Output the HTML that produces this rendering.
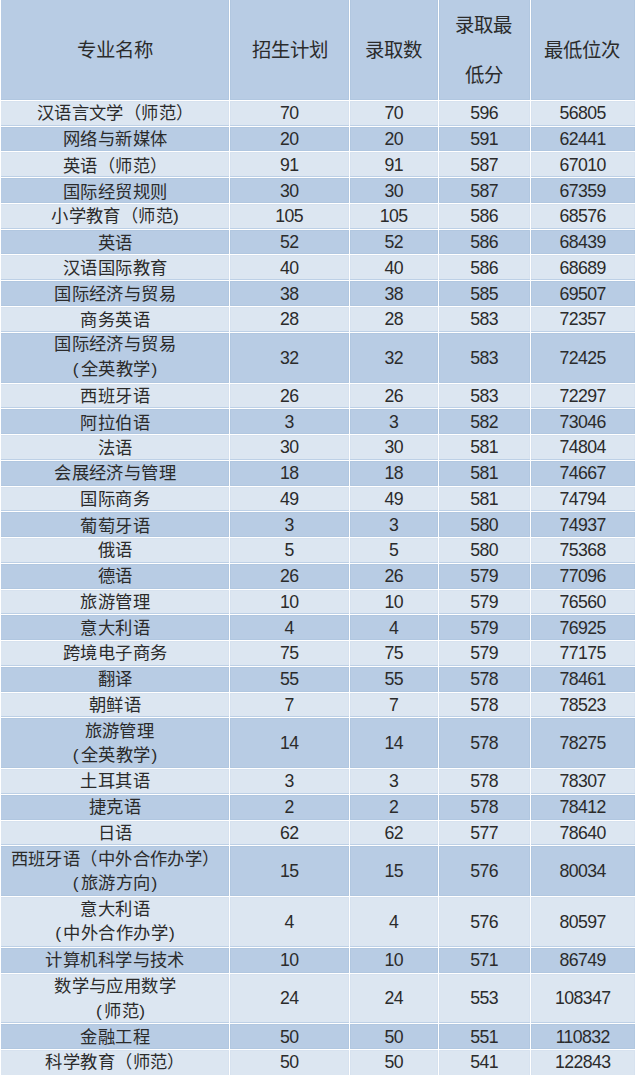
<!DOCTYPE html>
<html lang="zh-CN"><head><meta charset="utf-8">
<style>
html,body{margin:0;padding:0;background:#fff;}
body{width:642px;height:1076px;position:relative;overflow:hidden;font-family:"Liberation Sans",sans-serif;color:#2b2b2b;}
svg{position:absolute;left:0;top:0;}
.t{position:absolute;height:0;line-height:0;text-spacing-trim:space-all;text-align:center;white-space:nowrap;}
.pl{margin-right:2px} .pr{margin-left:1px}
</style></head><body>
<svg width="642" height="1076" viewBox="0 0 642 1076">
<rect x="1" y="0" width="634" height="100" fill="#B8CCE4"/><rect x="228" y="0" width="3" height="100" fill="#B1C7E0"/><rect x="348" y="0" width="3" height="100" fill="#B1C7E0"/><rect x="437" y="0" width="3" height="100" fill="#B1C7E0"/><rect x="529" y="0" width="3" height="100" fill="#B1C7E0"/><rect x="634" y="0" width="1" height="100" fill="#B1C7E0"/><rect x="1" y="99" width="634" height="1" fill="#B1C7E0"/><rect x="1" y="101" width="634" height="25" fill="#DCE6F1"/><rect x="228" y="101" width="3" height="25" fill="#D7E2EF"/><rect x="348" y="101" width="3" height="25" fill="#D7E2EF"/><rect x="437" y="101" width="3" height="25" fill="#D7E2EF"/><rect x="529" y="101" width="3" height="25" fill="#D7E2EF"/><rect x="634" y="101" width="1" height="25" fill="#D7E2EF"/><rect x="1" y="101" width="634" height="1" fill="#D7E2EF"/><rect x="1" y="125" width="634" height="1" fill="#BDD0E6"/><rect x="1" y="127" width="634" height="24" fill="#B8CCE4"/><rect x="228" y="127" width="3" height="24" fill="#B1C7E0"/><rect x="348" y="127" width="3" height="24" fill="#B1C7E0"/><rect x="437" y="127" width="3" height="24" fill="#B1C7E0"/><rect x="529" y="127" width="3" height="24" fill="#B1C7E0"/><rect x="634" y="127" width="1" height="24" fill="#B1C7E0"/><rect x="1" y="127" width="634" height="1" fill="#B1C7E0"/><rect x="1" y="150" width="634" height="1" fill="#B1C7E0"/><rect x="1" y="152" width="634" height="25" fill="#DCE6F1"/><rect x="228" y="152" width="3" height="25" fill="#D7E2EF"/><rect x="348" y="152" width="3" height="25" fill="#D7E2EF"/><rect x="437" y="152" width="3" height="25" fill="#D7E2EF"/><rect x="529" y="152" width="3" height="25" fill="#D7E2EF"/><rect x="634" y="152" width="1" height="25" fill="#D7E2EF"/><rect x="1" y="152" width="634" height="1" fill="#D7E2EF"/><rect x="1" y="176" width="634" height="1" fill="#BDD0E6"/><rect x="1" y="178" width="634" height="25" fill="#B8CCE4"/><rect x="228" y="178" width="3" height="25" fill="#B1C7E0"/><rect x="348" y="178" width="3" height="25" fill="#B1C7E0"/><rect x="437" y="178" width="3" height="25" fill="#B1C7E0"/><rect x="529" y="178" width="3" height="25" fill="#B1C7E0"/><rect x="634" y="178" width="1" height="25" fill="#B1C7E0"/><rect x="1" y="178" width="634" height="1" fill="#B1C7E0"/><rect x="1" y="202" width="634" height="1" fill="#B1C7E0"/><rect x="1" y="204" width="634" height="25" fill="#DCE6F1"/><rect x="228" y="204" width="3" height="25" fill="#D7E2EF"/><rect x="348" y="204" width="3" height="25" fill="#D7E2EF"/><rect x="437" y="204" width="3" height="25" fill="#D7E2EF"/><rect x="529" y="204" width="3" height="25" fill="#D7E2EF"/><rect x="634" y="204" width="1" height="25" fill="#D7E2EF"/><rect x="1" y="204" width="634" height="1" fill="#D7E2EF"/><rect x="1" y="228" width="634" height="1" fill="#BDD0E6"/><rect x="1" y="230" width="634" height="24" fill="#B8CCE4"/><rect x="228" y="230" width="3" height="24" fill="#B1C7E0"/><rect x="348" y="230" width="3" height="24" fill="#B1C7E0"/><rect x="437" y="230" width="3" height="24" fill="#B1C7E0"/><rect x="529" y="230" width="3" height="24" fill="#B1C7E0"/><rect x="634" y="230" width="1" height="24" fill="#B1C7E0"/><rect x="1" y="230" width="634" height="1" fill="#B1C7E0"/><rect x="1" y="253" width="634" height="1" fill="#B1C7E0"/><rect x="1" y="255" width="634" height="25" fill="#DCE6F1"/><rect x="228" y="255" width="3" height="25" fill="#D7E2EF"/><rect x="348" y="255" width="3" height="25" fill="#D7E2EF"/><rect x="437" y="255" width="3" height="25" fill="#D7E2EF"/><rect x="529" y="255" width="3" height="25" fill="#D7E2EF"/><rect x="634" y="255" width="1" height="25" fill="#D7E2EF"/><rect x="1" y="255" width="634" height="1" fill="#D7E2EF"/><rect x="1" y="279" width="634" height="1" fill="#BDD0E6"/><rect x="1" y="281" width="634" height="25" fill="#B8CCE4"/><rect x="228" y="281" width="3" height="25" fill="#B1C7E0"/><rect x="348" y="281" width="3" height="25" fill="#B1C7E0"/><rect x="437" y="281" width="3" height="25" fill="#B1C7E0"/><rect x="529" y="281" width="3" height="25" fill="#B1C7E0"/><rect x="634" y="281" width="1" height="25" fill="#B1C7E0"/><rect x="1" y="281" width="634" height="1" fill="#B1C7E0"/><rect x="1" y="305" width="634" height="1" fill="#B1C7E0"/><rect x="1" y="307" width="634" height="25" fill="#DCE6F1"/><rect x="228" y="307" width="3" height="25" fill="#D7E2EF"/><rect x="348" y="307" width="3" height="25" fill="#D7E2EF"/><rect x="437" y="307" width="3" height="25" fill="#D7E2EF"/><rect x="529" y="307" width="3" height="25" fill="#D7E2EF"/><rect x="634" y="307" width="1" height="25" fill="#D7E2EF"/><rect x="1" y="307" width="634" height="1" fill="#D7E2EF"/><rect x="1" y="331" width="634" height="1" fill="#BDD0E6"/><rect x="1" y="333" width="634" height="50" fill="#B8CCE4"/><rect x="228" y="333" width="3" height="50" fill="#B1C7E0"/><rect x="348" y="333" width="3" height="50" fill="#B1C7E0"/><rect x="437" y="333" width="3" height="50" fill="#B1C7E0"/><rect x="529" y="333" width="3" height="50" fill="#B1C7E0"/><rect x="634" y="333" width="1" height="50" fill="#B1C7E0"/><rect x="1" y="333" width="634" height="1" fill="#B1C7E0"/><rect x="1" y="382" width="634" height="1" fill="#B1C7E0"/><rect x="1" y="384" width="634" height="24" fill="#DCE6F1"/><rect x="228" y="384" width="3" height="24" fill="#D7E2EF"/><rect x="348" y="384" width="3" height="24" fill="#D7E2EF"/><rect x="437" y="384" width="3" height="24" fill="#D7E2EF"/><rect x="529" y="384" width="3" height="24" fill="#D7E2EF"/><rect x="634" y="384" width="1" height="24" fill="#D7E2EF"/><rect x="1" y="384" width="634" height="1" fill="#D7E2EF"/><rect x="1" y="407" width="634" height="1" fill="#BDD0E6"/><rect x="1" y="409" width="634" height="25" fill="#B8CCE4"/><rect x="228" y="409" width="3" height="25" fill="#B1C7E0"/><rect x="348" y="409" width="3" height="25" fill="#B1C7E0"/><rect x="437" y="409" width="3" height="25" fill="#B1C7E0"/><rect x="529" y="409" width="3" height="25" fill="#B1C7E0"/><rect x="634" y="409" width="1" height="25" fill="#B1C7E0"/><rect x="1" y="409" width="634" height="1" fill="#B1C7E0"/><rect x="1" y="433" width="634" height="1" fill="#B1C7E0"/><rect x="1" y="435" width="634" height="25" fill="#DCE6F1"/><rect x="228" y="435" width="3" height="25" fill="#D7E2EF"/><rect x="348" y="435" width="3" height="25" fill="#D7E2EF"/><rect x="437" y="435" width="3" height="25" fill="#D7E2EF"/><rect x="529" y="435" width="3" height="25" fill="#D7E2EF"/><rect x="634" y="435" width="1" height="25" fill="#D7E2EF"/><rect x="1" y="435" width="634" height="1" fill="#D7E2EF"/><rect x="1" y="459" width="634" height="1" fill="#BDD0E6"/><rect x="1" y="461" width="634" height="25" fill="#B8CCE4"/><rect x="228" y="461" width="3" height="25" fill="#B1C7E0"/><rect x="348" y="461" width="3" height="25" fill="#B1C7E0"/><rect x="437" y="461" width="3" height="25" fill="#B1C7E0"/><rect x="529" y="461" width="3" height="25" fill="#B1C7E0"/><rect x="634" y="461" width="1" height="25" fill="#B1C7E0"/><rect x="1" y="461" width="634" height="1" fill="#B1C7E0"/><rect x="1" y="485" width="634" height="1" fill="#B1C7E0"/><rect x="1" y="487" width="634" height="24" fill="#DCE6F1"/><rect x="228" y="487" width="3" height="24" fill="#D7E2EF"/><rect x="348" y="487" width="3" height="24" fill="#D7E2EF"/><rect x="437" y="487" width="3" height="24" fill="#D7E2EF"/><rect x="529" y="487" width="3" height="24" fill="#D7E2EF"/><rect x="634" y="487" width="1" height="24" fill="#D7E2EF"/><rect x="1" y="487" width="634" height="1" fill="#D7E2EF"/><rect x="1" y="510" width="634" height="1" fill="#BDD0E6"/><rect x="1" y="512" width="634" height="25" fill="#B8CCE4"/><rect x="228" y="512" width="3" height="25" fill="#B1C7E0"/><rect x="348" y="512" width="3" height="25" fill="#B1C7E0"/><rect x="437" y="512" width="3" height="25" fill="#B1C7E0"/><rect x="529" y="512" width="3" height="25" fill="#B1C7E0"/><rect x="634" y="512" width="1" height="25" fill="#B1C7E0"/><rect x="1" y="512" width="634" height="1" fill="#B1C7E0"/><rect x="1" y="536" width="634" height="1" fill="#B1C7E0"/><rect x="1" y="538" width="634" height="25" fill="#DCE6F1"/><rect x="228" y="538" width="3" height="25" fill="#D7E2EF"/><rect x="348" y="538" width="3" height="25" fill="#D7E2EF"/><rect x="437" y="538" width="3" height="25" fill="#D7E2EF"/><rect x="529" y="538" width="3" height="25" fill="#D7E2EF"/><rect x="634" y="538" width="1" height="25" fill="#D7E2EF"/><rect x="1" y="538" width="634" height="1" fill="#D7E2EF"/><rect x="1" y="562" width="634" height="1" fill="#BDD0E6"/><rect x="1" y="564" width="634" height="25" fill="#B8CCE4"/><rect x="228" y="564" width="3" height="25" fill="#B1C7E0"/><rect x="348" y="564" width="3" height="25" fill="#B1C7E0"/><rect x="437" y="564" width="3" height="25" fill="#B1C7E0"/><rect x="529" y="564" width="3" height="25" fill="#B1C7E0"/><rect x="634" y="564" width="1" height="25" fill="#B1C7E0"/><rect x="1" y="564" width="634" height="1" fill="#B1C7E0"/><rect x="1" y="588" width="634" height="1" fill="#B1C7E0"/><rect x="1" y="590" width="634" height="24" fill="#DCE6F1"/><rect x="228" y="590" width="3" height="24" fill="#D7E2EF"/><rect x="348" y="590" width="3" height="24" fill="#D7E2EF"/><rect x="437" y="590" width="3" height="24" fill="#D7E2EF"/><rect x="529" y="590" width="3" height="24" fill="#D7E2EF"/><rect x="634" y="590" width="1" height="24" fill="#D7E2EF"/><rect x="1" y="590" width="634" height="1" fill="#D7E2EF"/><rect x="1" y="613" width="634" height="1" fill="#BDD0E6"/><rect x="1" y="615" width="634" height="25" fill="#B8CCE4"/><rect x="228" y="615" width="3" height="25" fill="#B1C7E0"/><rect x="348" y="615" width="3" height="25" fill="#B1C7E0"/><rect x="437" y="615" width="3" height="25" fill="#B1C7E0"/><rect x="529" y="615" width="3" height="25" fill="#B1C7E0"/><rect x="634" y="615" width="1" height="25" fill="#B1C7E0"/><rect x="1" y="615" width="634" height="1" fill="#B1C7E0"/><rect x="1" y="639" width="634" height="1" fill="#B1C7E0"/><rect x="1" y="641" width="634" height="25" fill="#DCE6F1"/><rect x="228" y="641" width="3" height="25" fill="#D7E2EF"/><rect x="348" y="641" width="3" height="25" fill="#D7E2EF"/><rect x="437" y="641" width="3" height="25" fill="#D7E2EF"/><rect x="529" y="641" width="3" height="25" fill="#D7E2EF"/><rect x="634" y="641" width="1" height="25" fill="#D7E2EF"/><rect x="1" y="641" width="634" height="1" fill="#D7E2EF"/><rect x="1" y="665" width="634" height="1" fill="#BDD0E6"/><rect x="1" y="667" width="634" height="25" fill="#B8CCE4"/><rect x="228" y="667" width="3" height="25" fill="#B1C7E0"/><rect x="348" y="667" width="3" height="25" fill="#B1C7E0"/><rect x="437" y="667" width="3" height="25" fill="#B1C7E0"/><rect x="529" y="667" width="3" height="25" fill="#B1C7E0"/><rect x="634" y="667" width="1" height="25" fill="#B1C7E0"/><rect x="1" y="667" width="634" height="1" fill="#B1C7E0"/><rect x="1" y="691" width="634" height="1" fill="#B1C7E0"/><rect x="1" y="693" width="634" height="24" fill="#DCE6F1"/><rect x="228" y="693" width="3" height="24" fill="#D7E2EF"/><rect x="348" y="693" width="3" height="24" fill="#D7E2EF"/><rect x="437" y="693" width="3" height="24" fill="#D7E2EF"/><rect x="529" y="693" width="3" height="24" fill="#D7E2EF"/><rect x="634" y="693" width="1" height="24" fill="#D7E2EF"/><rect x="1" y="693" width="634" height="1" fill="#D7E2EF"/><rect x="1" y="716" width="634" height="1" fill="#BDD0E6"/><rect x="1" y="718" width="634" height="50" fill="#B8CCE4"/><rect x="228" y="718" width="3" height="50" fill="#B1C7E0"/><rect x="348" y="718" width="3" height="50" fill="#B1C7E0"/><rect x="437" y="718" width="3" height="50" fill="#B1C7E0"/><rect x="529" y="718" width="3" height="50" fill="#B1C7E0"/><rect x="634" y="718" width="1" height="50" fill="#B1C7E0"/><rect x="1" y="718" width="634" height="1" fill="#B1C7E0"/><rect x="1" y="767" width="634" height="1" fill="#B1C7E0"/><rect x="1" y="769" width="634" height="25" fill="#DCE6F1"/><rect x="228" y="769" width="3" height="25" fill="#D7E2EF"/><rect x="348" y="769" width="3" height="25" fill="#D7E2EF"/><rect x="437" y="769" width="3" height="25" fill="#D7E2EF"/><rect x="529" y="769" width="3" height="25" fill="#D7E2EF"/><rect x="634" y="769" width="1" height="25" fill="#D7E2EF"/><rect x="1" y="769" width="634" height="1" fill="#D7E2EF"/><rect x="1" y="793" width="634" height="1" fill="#BDD0E6"/><rect x="1" y="795" width="634" height="25" fill="#B8CCE4"/><rect x="228" y="795" width="3" height="25" fill="#B1C7E0"/><rect x="348" y="795" width="3" height="25" fill="#B1C7E0"/><rect x="437" y="795" width="3" height="25" fill="#B1C7E0"/><rect x="529" y="795" width="3" height="25" fill="#B1C7E0"/><rect x="634" y="795" width="1" height="25" fill="#B1C7E0"/><rect x="1" y="795" width="634" height="1" fill="#B1C7E0"/><rect x="1" y="819" width="634" height="1" fill="#B1C7E0"/><rect x="1" y="821" width="634" height="24" fill="#DCE6F1"/><rect x="228" y="821" width="3" height="24" fill="#D7E2EF"/><rect x="348" y="821" width="3" height="24" fill="#D7E2EF"/><rect x="437" y="821" width="3" height="24" fill="#D7E2EF"/><rect x="529" y="821" width="3" height="24" fill="#D7E2EF"/><rect x="634" y="821" width="1" height="24" fill="#D7E2EF"/><rect x="1" y="821" width="634" height="1" fill="#D7E2EF"/><rect x="1" y="844" width="634" height="1" fill="#BDD0E6"/><rect x="1" y="846" width="634" height="50" fill="#B8CCE4"/><rect x="228" y="846" width="3" height="50" fill="#B1C7E0"/><rect x="348" y="846" width="3" height="50" fill="#B1C7E0"/><rect x="437" y="846" width="3" height="50" fill="#B1C7E0"/><rect x="529" y="846" width="3" height="50" fill="#B1C7E0"/><rect x="634" y="846" width="1" height="50" fill="#B1C7E0"/><rect x="1" y="846" width="634" height="1" fill="#B1C7E0"/><rect x="1" y="895" width="634" height="1" fill="#B1C7E0"/><rect x="1" y="897" width="634" height="50" fill="#DCE6F1"/><rect x="228" y="897" width="3" height="50" fill="#D7E2EF"/><rect x="348" y="897" width="3" height="50" fill="#D7E2EF"/><rect x="437" y="897" width="3" height="50" fill="#D7E2EF"/><rect x="529" y="897" width="3" height="50" fill="#D7E2EF"/><rect x="634" y="897" width="1" height="50" fill="#D7E2EF"/><rect x="1" y="897" width="634" height="1" fill="#D7E2EF"/><rect x="1" y="946" width="634" height="1" fill="#BDD0E6"/><rect x="1" y="948" width="634" height="25" fill="#B8CCE4"/><rect x="228" y="948" width="3" height="25" fill="#B1C7E0"/><rect x="348" y="948" width="3" height="25" fill="#B1C7E0"/><rect x="437" y="948" width="3" height="25" fill="#B1C7E0"/><rect x="529" y="948" width="3" height="25" fill="#B1C7E0"/><rect x="634" y="948" width="1" height="25" fill="#B1C7E0"/><rect x="1" y="948" width="634" height="1" fill="#B1C7E0"/><rect x="1" y="972" width="634" height="1" fill="#B1C7E0"/><rect x="1" y="974" width="634" height="49" fill="#DCE6F1"/><rect x="228" y="974" width="3" height="49" fill="#D7E2EF"/><rect x="348" y="974" width="3" height="49" fill="#D7E2EF"/><rect x="437" y="974" width="3" height="49" fill="#D7E2EF"/><rect x="529" y="974" width="3" height="49" fill="#D7E2EF"/><rect x="634" y="974" width="1" height="49" fill="#D7E2EF"/><rect x="1" y="974" width="634" height="1" fill="#D7E2EF"/><rect x="1" y="1022" width="634" height="1" fill="#BDD0E6"/><rect x="1" y="1024" width="634" height="25" fill="#B8CCE4"/><rect x="228" y="1024" width="3" height="25" fill="#B1C7E0"/><rect x="348" y="1024" width="3" height="25" fill="#B1C7E0"/><rect x="437" y="1024" width="3" height="25" fill="#B1C7E0"/><rect x="529" y="1024" width="3" height="25" fill="#B1C7E0"/><rect x="634" y="1024" width="1" height="25" fill="#B1C7E0"/><rect x="1" y="1024" width="634" height="1" fill="#B1C7E0"/><rect x="1" y="1048" width="634" height="1" fill="#B1C7E0"/><rect x="1" y="1050" width="634" height="25" fill="#DCE6F1"/><rect x="228" y="1050" width="3" height="25" fill="#D7E2EF"/><rect x="348" y="1050" width="3" height="25" fill="#D7E2EF"/><rect x="437" y="1050" width="3" height="25" fill="#D7E2EF"/><rect x="529" y="1050" width="3" height="25" fill="#D7E2EF"/><rect x="634" y="1050" width="1" height="25" fill="#D7E2EF"/><rect x="1" y="1050" width="634" height="1" fill="#D7E2EF"/><rect x="1" y="100.00" width="634" height="1.0" fill="#fff"/><rect x="1" y="126.00" width="634" height="1.0" fill="#fff"/><rect x="1" y="151.00" width="634" height="1.0" fill="#fff"/><rect x="1" y="177.00" width="634" height="1.0" fill="#fff"/><rect x="1" y="203.00" width="634" height="1.0" fill="#fff"/><rect x="1" y="229.00" width="634" height="1.0" fill="#fff"/><rect x="1" y="254.00" width="634" height="1.0" fill="#fff"/><rect x="1" y="280.00" width="634" height="1.0" fill="#fff"/><rect x="1" y="306.00" width="634" height="1.0" fill="#fff"/><rect x="1" y="332.00" width="634" height="1.0" fill="#fff"/><rect x="1" y="383.00" width="634" height="1.0" fill="#fff"/><rect x="1" y="408.00" width="634" height="1.0" fill="#fff"/><rect x="1" y="434.00" width="634" height="1.0" fill="#fff"/><rect x="1" y="460.00" width="634" height="1.0" fill="#fff"/><rect x="1" y="486.00" width="634" height="1.0" fill="#fff"/><rect x="1" y="511.00" width="634" height="1.0" fill="#fff"/><rect x="1" y="537.00" width="634" height="1.0" fill="#fff"/><rect x="1" y="563.00" width="634" height="1.0" fill="#fff"/><rect x="1" y="589.00" width="634" height="1.0" fill="#fff"/><rect x="1" y="614.00" width="634" height="1.0" fill="#fff"/><rect x="1" y="640.00" width="634" height="1.0" fill="#fff"/><rect x="1" y="666.00" width="634" height="1.0" fill="#fff"/><rect x="1" y="692.00" width="634" height="1.0" fill="#fff"/><rect x="1" y="717.00" width="634" height="1.0" fill="#fff"/><rect x="1" y="768.00" width="634" height="1.0" fill="#fff"/><rect x="1" y="794.00" width="634" height="1.0" fill="#fff"/><rect x="1" y="820.00" width="634" height="1.0" fill="#fff"/><rect x="1" y="845.00" width="634" height="1.0" fill="#fff"/><rect x="1" y="896.00" width="634" height="1.0" fill="#fff"/><rect x="1" y="947.00" width="634" height="1.0" fill="#fff"/><rect x="1" y="973.00" width="634" height="1.0" fill="#fff"/><rect x="1" y="1023.00" width="634" height="1.0" fill="#fff"/><rect x="1" y="1049.00" width="634" height="1.0" fill="#fff"/><rect x="229.00" y="0" width="1.0" height="1075" fill="#fff"/><rect x="349.00" y="0" width="1.0" height="1075" fill="#fff"/><rect x="438.00" y="0" width="1.0" height="1075" fill="#fff"/><rect x="530.00" y="0" width="1.0" height="1075" fill="#fff"/>
</svg>
<div class="t h" style="left:1px;width:228px;top:49.58px;font-size:19.4px">专业名称</div><div class="t h" style="left:230px;width:119px;top:49.58px;font-size:19.4px">招生计划</div><div class="t h" style="left:349px;width:88px;top:49.58px;font-size:19.4px">录取数</div><div class="t h" style="left:530px;width:104px;top:49.58px;font-size:19.4px">最低位次</div><div class="t h" style="left:438px;width:91px;top:25.48px;font-size:19.4px">录取最</div><div class="t h" style="left:438px;width:91px;top:74.58px;font-size:19.4px">低分</div><div class="t c" style="left:1px;width:228px;top:113.31px;font-size:17.3px;letter-spacing:0.43px;text-indent:0.43px">汉语言文学（师范）</div><div class="t n" style="left:230px;width:119px;top:113.17px;font-size:17.7px;letter-spacing:-0.6px;text-indent:-0.6px">70</div><div class="t n" style="left:350px;width:88px;top:113.17px;font-size:17.7px;letter-spacing:-0.6px;text-indent:-0.6px">70</div><div class="t n" style="left:439px;width:91px;top:113.17px;font-size:17.7px;letter-spacing:-0.6px;text-indent:-0.6px">596</div><div class="t n" style="left:531px;width:104px;top:113.17px;font-size:17.7px;letter-spacing:-0.6px;text-indent:-0.6px">56805</div><div class="t c" style="left:1px;width:228px;top:138.96px;font-size:17.3px;letter-spacing:0.43px;text-indent:0.43px">网络与新媒体</div><div class="t n" style="left:230px;width:119px;top:138.82px;font-size:17.7px;letter-spacing:-0.6px;text-indent:-0.6px">20</div><div class="t n" style="left:350px;width:88px;top:138.82px;font-size:17.7px;letter-spacing:-0.6px;text-indent:-0.6px">20</div><div class="t n" style="left:439px;width:91px;top:138.82px;font-size:17.7px;letter-spacing:-0.6px;text-indent:-0.6px">591</div><div class="t n" style="left:531px;width:104px;top:138.82px;font-size:17.7px;letter-spacing:-0.6px;text-indent:-0.6px">62441</div><div class="t c" style="left:1px;width:228px;top:165.51px;font-size:17.3px;letter-spacing:0.43px;text-indent:0.43px">英语（师范）</div><div class="t n" style="left:230px;width:119px;top:165.37px;font-size:17.7px;letter-spacing:-0.6px;text-indent:-0.6px">91</div><div class="t n" style="left:350px;width:88px;top:165.37px;font-size:17.7px;letter-spacing:-0.6px;text-indent:-0.6px">91</div><div class="t n" style="left:439px;width:91px;top:165.37px;font-size:17.7px;letter-spacing:-0.6px;text-indent:-0.6px">587</div><div class="t n" style="left:531px;width:104px;top:165.37px;font-size:17.7px;letter-spacing:-0.6px;text-indent:-0.6px">67010</div><div class="t c" style="left:1px;width:228px;top:191.51px;font-size:17.3px;letter-spacing:0.43px;text-indent:0.43px">国际经贸规则</div><div class="t n" style="left:230px;width:119px;top:191.37px;font-size:17.7px;letter-spacing:-0.6px;text-indent:-0.6px">30</div><div class="t n" style="left:350px;width:88px;top:191.37px;font-size:17.7px;letter-spacing:-0.6px;text-indent:-0.6px">30</div><div class="t n" style="left:439px;width:91px;top:191.37px;font-size:17.7px;letter-spacing:-0.6px;text-indent:-0.6px">587</div><div class="t n" style="left:531px;width:104px;top:191.37px;font-size:17.7px;letter-spacing:-0.6px;text-indent:-0.6px">67359</div><div class="t c" style="left:1px;width:228px;top:215.66px;font-size:17.3px;letter-spacing:0.43px;text-indent:0.43px">小学教育（师范)</div><div class="t n" style="left:230px;width:119px;top:215.52px;font-size:17.7px;letter-spacing:-0.6px;text-indent:-0.6px">105</div><div class="t n" style="left:350px;width:88px;top:215.52px;font-size:17.7px;letter-spacing:-0.6px;text-indent:-0.6px">105</div><div class="t n" style="left:439px;width:91px;top:215.52px;font-size:17.7px;letter-spacing:-0.6px;text-indent:-0.6px">586</div><div class="t n" style="left:531px;width:104px;top:215.52px;font-size:17.7px;letter-spacing:-0.6px;text-indent:-0.6px">68576</div><div class="t c" style="left:1px;width:228px;top:242.61px;font-size:17.3px;letter-spacing:0.43px;text-indent:0.43px">英语</div><div class="t n" style="left:230px;width:119px;top:242.47px;font-size:17.7px;letter-spacing:-0.6px;text-indent:-0.6px">52</div><div class="t n" style="left:350px;width:88px;top:242.47px;font-size:17.7px;letter-spacing:-0.6px;text-indent:-0.6px">52</div><div class="t n" style="left:439px;width:91px;top:242.47px;font-size:17.7px;letter-spacing:-0.6px;text-indent:-0.6px">586</div><div class="t n" style="left:531px;width:104px;top:242.47px;font-size:17.7px;letter-spacing:-0.6px;text-indent:-0.6px">68439</div><div class="t c" style="left:1px;width:228px;top:268.06px;font-size:17.3px;letter-spacing:0.43px;text-indent:0.43px">汉语国际教育</div><div class="t n" style="left:230px;width:119px;top:267.92px;font-size:17.7px;letter-spacing:-0.6px;text-indent:-0.6px">40</div><div class="t n" style="left:350px;width:88px;top:267.92px;font-size:17.7px;letter-spacing:-0.6px;text-indent:-0.6px">40</div><div class="t n" style="left:439px;width:91px;top:267.92px;font-size:17.7px;letter-spacing:-0.6px;text-indent:-0.6px">586</div><div class="t n" style="left:531px;width:104px;top:267.92px;font-size:17.7px;letter-spacing:-0.6px;text-indent:-0.6px">68689</div><div class="t c" style="left:1px;width:228px;top:293.71px;font-size:17.3px;letter-spacing:0.43px;text-indent:0.43px">国际经济与贸易</div><div class="t n" style="left:230px;width:119px;top:293.57px;font-size:17.7px;letter-spacing:-0.6px;text-indent:-0.6px">38</div><div class="t n" style="left:350px;width:88px;top:293.57px;font-size:17.7px;letter-spacing:-0.6px;text-indent:-0.6px">38</div><div class="t n" style="left:439px;width:91px;top:293.57px;font-size:17.7px;letter-spacing:-0.6px;text-indent:-0.6px">585</div><div class="t n" style="left:531px;width:104px;top:293.57px;font-size:17.7px;letter-spacing:-0.6px;text-indent:-0.6px">69507</div><div class="t c" style="left:1px;width:228px;top:319.61px;font-size:17.3px;letter-spacing:0.43px;text-indent:0.43px">商务英语</div><div class="t n" style="left:230px;width:119px;top:319.47px;font-size:17.7px;letter-spacing:-0.6px;text-indent:-0.6px">28</div><div class="t n" style="left:350px;width:88px;top:319.47px;font-size:17.7px;letter-spacing:-0.6px;text-indent:-0.6px">28</div><div class="t n" style="left:439px;width:91px;top:319.47px;font-size:17.7px;letter-spacing:-0.6px;text-indent:-0.6px">583</div><div class="t n" style="left:531px;width:104px;top:319.47px;font-size:17.7px;letter-spacing:-0.6px;text-indent:-0.6px">72357</div><div class="t c" style="left:1px;width:228px;top:344.11px;font-size:17.3px;letter-spacing:0.43px;text-indent:0.43px">国际经济与贸易</div><div class="t c" style="left:1px;width:228px;top:368.71px;font-size:17.3px;letter-spacing:0.43px;text-indent:0.43px"><span class="pl">(</span>全英教学<span class="pr">)</span></div><div class="t n" style="left:230px;width:119px;top:357.77px;font-size:17.7px;letter-spacing:-0.6px;text-indent:-0.6px">32</div><div class="t n" style="left:350px;width:88px;top:357.77px;font-size:17.7px;letter-spacing:-0.6px;text-indent:-0.6px">32</div><div class="t n" style="left:439px;width:91px;top:357.77px;font-size:17.7px;letter-spacing:-0.6px;text-indent:-0.6px">583</div><div class="t n" style="left:531px;width:104px;top:357.77px;font-size:17.7px;letter-spacing:-0.6px;text-indent:-0.6px">72425</div><div class="t c" style="left:1px;width:228px;top:395.96px;font-size:17.3px;letter-spacing:0.43px;text-indent:0.43px">西班牙语</div><div class="t n" style="left:230px;width:119px;top:395.82px;font-size:17.7px;letter-spacing:-0.6px;text-indent:-0.6px">26</div><div class="t n" style="left:350px;width:88px;top:395.82px;font-size:17.7px;letter-spacing:-0.6px;text-indent:-0.6px">26</div><div class="t n" style="left:439px;width:91px;top:395.82px;font-size:17.7px;letter-spacing:-0.6px;text-indent:-0.6px">583</div><div class="t n" style="left:531px;width:104px;top:395.82px;font-size:17.7px;letter-spacing:-0.6px;text-indent:-0.6px">72297</div><div class="t c" style="left:1px;width:228px;top:422.56px;font-size:17.3px;letter-spacing:0.43px;text-indent:0.43px">阿拉伯语</div><div class="t n" style="left:230px;width:119px;top:422.42px;font-size:17.7px;letter-spacing:-0.6px;text-indent:-0.6px">3</div><div class="t n" style="left:350px;width:88px;top:422.42px;font-size:17.7px;letter-spacing:-0.6px;text-indent:-0.6px">3</div><div class="t n" style="left:439px;width:91px;top:422.42px;font-size:17.7px;letter-spacing:-0.6px;text-indent:-0.6px">582</div><div class="t n" style="left:531px;width:104px;top:422.42px;font-size:17.7px;letter-spacing:-0.6px;text-indent:-0.6px">73046</div><div class="t c" style="left:1px;width:228px;top:447.56px;font-size:17.3px;letter-spacing:0.43px;text-indent:0.43px">法语</div><div class="t n" style="left:230px;width:119px;top:447.42px;font-size:17.7px;letter-spacing:-0.6px;text-indent:-0.6px">30</div><div class="t n" style="left:350px;width:88px;top:447.42px;font-size:17.7px;letter-spacing:-0.6px;text-indent:-0.6px">30</div><div class="t n" style="left:439px;width:91px;top:447.42px;font-size:17.7px;letter-spacing:-0.6px;text-indent:-0.6px">581</div><div class="t n" style="left:531px;width:104px;top:447.42px;font-size:17.7px;letter-spacing:-0.6px;text-indent:-0.6px">74804</div><div class="t c" style="left:1px;width:228px;top:473.46px;font-size:17.3px;letter-spacing:0.43px;text-indent:0.43px">会展经济与管理</div><div class="t n" style="left:230px;width:119px;top:473.32px;font-size:17.7px;letter-spacing:-0.6px;text-indent:-0.6px">18</div><div class="t n" style="left:350px;width:88px;top:473.32px;font-size:17.7px;letter-spacing:-0.6px;text-indent:-0.6px">18</div><div class="t n" style="left:439px;width:91px;top:473.32px;font-size:17.7px;letter-spacing:-0.6px;text-indent:-0.6px">581</div><div class="t n" style="left:531px;width:104px;top:473.32px;font-size:17.7px;letter-spacing:-0.6px;text-indent:-0.6px">74667</div><div class="t c" style="left:1px;width:228px;top:499.01px;font-size:17.3px;letter-spacing:0.43px;text-indent:0.43px">国际商务</div><div class="t n" style="left:230px;width:119px;top:498.87px;font-size:17.7px;letter-spacing:-0.6px;text-indent:-0.6px">49</div><div class="t n" style="left:350px;width:88px;top:498.87px;font-size:17.7px;letter-spacing:-0.6px;text-indent:-0.6px">49</div><div class="t n" style="left:439px;width:91px;top:498.87px;font-size:17.7px;letter-spacing:-0.6px;text-indent:-0.6px">581</div><div class="t n" style="left:531px;width:104px;top:498.87px;font-size:17.7px;letter-spacing:-0.6px;text-indent:-0.6px">74794</div><div class="t c" style="left:1px;width:228px;top:525.61px;font-size:17.3px;letter-spacing:0.43px;text-indent:0.43px">葡萄牙语</div><div class="t n" style="left:230px;width:119px;top:525.47px;font-size:17.7px;letter-spacing:-0.6px;text-indent:-0.6px">3</div><div class="t n" style="left:350px;width:88px;top:525.47px;font-size:17.7px;letter-spacing:-0.6px;text-indent:-0.6px">3</div><div class="t n" style="left:439px;width:91px;top:525.47px;font-size:17.7px;letter-spacing:-0.6px;text-indent:-0.6px">580</div><div class="t n" style="left:531px;width:104px;top:525.47px;font-size:17.7px;letter-spacing:-0.6px;text-indent:-0.6px">74937</div><div class="t c" style="left:1px;width:228px;top:550.46px;font-size:17.3px;letter-spacing:0.43px;text-indent:0.43px">俄语</div><div class="t n" style="left:230px;width:119px;top:550.32px;font-size:17.7px;letter-spacing:-0.6px;text-indent:-0.6px">5</div><div class="t n" style="left:350px;width:88px;top:550.32px;font-size:17.7px;letter-spacing:-0.6px;text-indent:-0.6px">5</div><div class="t n" style="left:439px;width:91px;top:550.32px;font-size:17.7px;letter-spacing:-0.6px;text-indent:-0.6px">580</div><div class="t n" style="left:531px;width:104px;top:550.32px;font-size:17.7px;letter-spacing:-0.6px;text-indent:-0.6px">75368</div><div class="t c" style="left:1px;width:228px;top:576.41px;font-size:17.3px;letter-spacing:0.43px;text-indent:0.43px">德语</div><div class="t n" style="left:230px;width:119px;top:576.27px;font-size:17.7px;letter-spacing:-0.6px;text-indent:-0.6px">26</div><div class="t n" style="left:350px;width:88px;top:576.27px;font-size:17.7px;letter-spacing:-0.6px;text-indent:-0.6px">26</div><div class="t n" style="left:439px;width:91px;top:576.27px;font-size:17.7px;letter-spacing:-0.6px;text-indent:-0.6px">579</div><div class="t n" style="left:531px;width:104px;top:576.27px;font-size:17.7px;letter-spacing:-0.6px;text-indent:-0.6px">77096</div><div class="t c" style="left:1px;width:228px;top:602.01px;font-size:17.3px;letter-spacing:0.43px;text-indent:0.43px">旅游管理</div><div class="t n" style="left:230px;width:119px;top:601.87px;font-size:17.7px;letter-spacing:-0.6px;text-indent:-0.6px">10</div><div class="t n" style="left:350px;width:88px;top:601.87px;font-size:17.7px;letter-spacing:-0.6px;text-indent:-0.6px">10</div><div class="t n" style="left:439px;width:91px;top:601.87px;font-size:17.7px;letter-spacing:-0.6px;text-indent:-0.6px">579</div><div class="t n" style="left:531px;width:104px;top:601.87px;font-size:17.7px;letter-spacing:-0.6px;text-indent:-0.6px">76560</div><div class="t c" style="left:1px;width:228px;top:628.46px;font-size:17.3px;letter-spacing:0.43px;text-indent:0.43px">意大利语</div><div class="t n" style="left:230px;width:119px;top:628.32px;font-size:17.7px;letter-spacing:-0.6px;text-indent:-0.6px">4</div><div class="t n" style="left:350px;width:88px;top:628.32px;font-size:17.7px;letter-spacing:-0.6px;text-indent:-0.6px">4</div><div class="t n" style="left:439px;width:91px;top:628.32px;font-size:17.7px;letter-spacing:-0.6px;text-indent:-0.6px">579</div><div class="t n" style="left:531px;width:104px;top:628.32px;font-size:17.7px;letter-spacing:-0.6px;text-indent:-0.6px">76925</div><div class="t c" style="left:1px;width:228px;top:653.41px;font-size:17.3px;letter-spacing:0.43px;text-indent:0.43px">跨境电子商务</div><div class="t n" style="left:230px;width:119px;top:653.27px;font-size:17.7px;letter-spacing:-0.6px;text-indent:-0.6px">75</div><div class="t n" style="left:350px;width:88px;top:653.27px;font-size:17.7px;letter-spacing:-0.6px;text-indent:-0.6px">75</div><div class="t n" style="left:439px;width:91px;top:653.27px;font-size:17.7px;letter-spacing:-0.6px;text-indent:-0.6px">579</div><div class="t n" style="left:531px;width:104px;top:653.27px;font-size:17.7px;letter-spacing:-0.6px;text-indent:-0.6px">77175</div><div class="t c" style="left:1px;width:228px;top:679.46px;font-size:17.3px;letter-spacing:0.43px;text-indent:0.43px">翻译</div><div class="t n" style="left:230px;width:119px;top:679.32px;font-size:17.7px;letter-spacing:-0.6px;text-indent:-0.6px">55</div><div class="t n" style="left:350px;width:88px;top:679.32px;font-size:17.7px;letter-spacing:-0.6px;text-indent:-0.6px">55</div><div class="t n" style="left:439px;width:91px;top:679.32px;font-size:17.7px;letter-spacing:-0.6px;text-indent:-0.6px">578</div><div class="t n" style="left:531px;width:104px;top:679.32px;font-size:17.7px;letter-spacing:-0.6px;text-indent:-0.6px">78461</div><div class="t c" style="left:1px;width:228px;top:705.06px;font-size:17.3px;letter-spacing:0.43px;text-indent:0.43px">朝鲜语</div><div class="t n" style="left:230px;width:119px;top:704.92px;font-size:17.7px;letter-spacing:-0.6px;text-indent:-0.6px">7</div><div class="t n" style="left:350px;width:88px;top:704.92px;font-size:17.7px;letter-spacing:-0.6px;text-indent:-0.6px">7</div><div class="t n" style="left:439px;width:91px;top:704.92px;font-size:17.7px;letter-spacing:-0.6px;text-indent:-0.6px">578</div><div class="t n" style="left:531px;width:104px;top:704.92px;font-size:17.7px;letter-spacing:-0.6px;text-indent:-0.6px">78523</div><div class="t c" style="left:5.2px;width:228px;top:730.76px;font-size:17.3px;letter-spacing:0.43px;text-indent:0.43px">旅游管理</div><div class="t c" style="left:1px;width:228px;top:755.36px;font-size:17.3px;letter-spacing:0.43px;text-indent:0.43px"><span class="pl">(</span>全英教学<span class="pr">)</span></div><div class="t n" style="left:230px;width:119px;top:742.92px;font-size:17.7px;letter-spacing:-0.6px;text-indent:-0.6px">14</div><div class="t n" style="left:350px;width:88px;top:742.92px;font-size:17.7px;letter-spacing:-0.6px;text-indent:-0.6px">14</div><div class="t n" style="left:439px;width:91px;top:742.92px;font-size:17.7px;letter-spacing:-0.6px;text-indent:-0.6px">578</div><div class="t n" style="left:531px;width:104px;top:742.92px;font-size:17.7px;letter-spacing:-0.6px;text-indent:-0.6px">78275</div><div class="t c" style="left:1px;width:228px;top:781.41px;font-size:17.3px;letter-spacing:0.43px;text-indent:0.43px">土耳其语</div><div class="t n" style="left:230px;width:119px;top:781.27px;font-size:17.7px;letter-spacing:-0.6px;text-indent:-0.6px">3</div><div class="t n" style="left:350px;width:88px;top:781.27px;font-size:17.7px;letter-spacing:-0.6px;text-indent:-0.6px">3</div><div class="t n" style="left:439px;width:91px;top:781.27px;font-size:17.7px;letter-spacing:-0.6px;text-indent:-0.6px">578</div><div class="t n" style="left:531px;width:104px;top:781.27px;font-size:17.7px;letter-spacing:-0.6px;text-indent:-0.6px">78307</div><div class="t c" style="left:1px;width:228px;top:807.36px;font-size:17.3px;letter-spacing:0.43px;text-indent:0.43px">捷克语</div><div class="t n" style="left:230px;width:119px;top:807.22px;font-size:17.7px;letter-spacing:-0.6px;text-indent:-0.6px">2</div><div class="t n" style="left:350px;width:88px;top:807.22px;font-size:17.7px;letter-spacing:-0.6px;text-indent:-0.6px">2</div><div class="t n" style="left:439px;width:91px;top:807.22px;font-size:17.7px;letter-spacing:-0.6px;text-indent:-0.6px">578</div><div class="t n" style="left:531px;width:104px;top:807.22px;font-size:17.7px;letter-spacing:-0.6px;text-indent:-0.6px">78412</div><div class="t c" style="left:1px;width:228px;top:832.96px;font-size:17.3px;letter-spacing:0.43px;text-indent:0.43px">日语</div><div class="t n" style="left:230px;width:119px;top:832.82px;font-size:17.7px;letter-spacing:-0.6px;text-indent:-0.6px">62</div><div class="t n" style="left:350px;width:88px;top:832.82px;font-size:17.7px;letter-spacing:-0.6px;text-indent:-0.6px">62</div><div class="t n" style="left:439px;width:91px;top:832.82px;font-size:17.7px;letter-spacing:-0.6px;text-indent:-0.6px">577</div><div class="t n" style="left:531px;width:104px;top:832.82px;font-size:17.7px;letter-spacing:-0.6px;text-indent:-0.6px">78640</div><div class="t c" style="left:1px;width:228px;top:858.71px;font-size:17.3px;letter-spacing:0.43px;text-indent:0.43px">西班牙语（中外合作办学）</div><div class="t c" style="left:1px;width:228px;top:883.31px;font-size:17.3px;letter-spacing:0.43px;text-indent:0.43px"><span class="pl">(</span>旅游方向<span class="pr">)</span></div><div class="t n" style="left:230px;width:119px;top:870.87px;font-size:17.7px;letter-spacing:-0.6px;text-indent:-0.6px">15</div><div class="t n" style="left:350px;width:88px;top:870.87px;font-size:17.7px;letter-spacing:-0.6px;text-indent:-0.6px">15</div><div class="t n" style="left:439px;width:91px;top:870.87px;font-size:17.7px;letter-spacing:-0.6px;text-indent:-0.6px">576</div><div class="t n" style="left:531px;width:104px;top:870.87px;font-size:17.7px;letter-spacing:-0.6px;text-indent:-0.6px">80034</div><div class="t c" style="left:1px;width:228px;top:908.66px;font-size:17.3px;letter-spacing:0.43px;text-indent:0.43px">意大利语</div><div class="t c" style="left:1px;width:228px;top:933.26px;font-size:17.3px;letter-spacing:0.43px;text-indent:0.43px"><span class="pl">(</span>中外合作办学<span class="pr">)</span></div><div class="t n" style="left:230px;width:119px;top:921.82px;font-size:17.7px;letter-spacing:-0.6px;text-indent:-0.6px">4</div><div class="t n" style="left:350px;width:88px;top:921.82px;font-size:17.7px;letter-spacing:-0.6px;text-indent:-0.6px">4</div><div class="t n" style="left:439px;width:91px;top:921.82px;font-size:17.7px;letter-spacing:-0.6px;text-indent:-0.6px">576</div><div class="t n" style="left:531px;width:104px;top:921.82px;font-size:17.7px;letter-spacing:-0.6px;text-indent:-0.6px">80597</div><div class="t c" style="left:1px;width:228px;top:960.36px;font-size:17.3px;letter-spacing:0.43px;text-indent:0.43px">计算机科学与技术</div><div class="t n" style="left:230px;width:119px;top:960.22px;font-size:17.7px;letter-spacing:-0.6px;text-indent:-0.6px">10</div><div class="t n" style="left:350px;width:88px;top:960.22px;font-size:17.7px;letter-spacing:-0.6px;text-indent:-0.6px">10</div><div class="t n" style="left:439px;width:91px;top:960.22px;font-size:17.7px;letter-spacing:-0.6px;text-indent:-0.6px">571</div><div class="t n" style="left:531px;width:104px;top:960.22px;font-size:17.7px;letter-spacing:-0.6px;text-indent:-0.6px">86749</div><div class="t c" style="left:1px;width:228px;top:986.06px;font-size:17.3px;letter-spacing:0.43px;text-indent:0.43px">数学与应用数学</div><div class="t c" style="left:6.5px;width:228px;top:1010.66px;font-size:17.3px;letter-spacing:0.43px;text-indent:0.43px"><span class="pl">(</span>师范)</div><div class="t n" style="left:230px;width:119px;top:998.22px;font-size:17.7px;letter-spacing:-0.6px;text-indent:-0.6px">24</div><div class="t n" style="left:350px;width:88px;top:998.22px;font-size:17.7px;letter-spacing:-0.6px;text-indent:-0.6px">24</div><div class="t n" style="left:439px;width:91px;top:998.22px;font-size:17.7px;letter-spacing:-0.6px;text-indent:-0.6px">553</div><div class="t n" style="left:531px;width:104px;top:998.22px;font-size:17.7px;letter-spacing:-0.6px;text-indent:-0.6px">108347</div><div class="t c" style="left:1px;width:228px;top:1037.41px;font-size:17.3px;letter-spacing:0.43px;text-indent:0.43px">金融工程</div><div class="t n" style="left:230px;width:119px;top:1037.27px;font-size:17.7px;letter-spacing:-0.6px;text-indent:-0.6px">50</div><div class="t n" style="left:350px;width:88px;top:1037.27px;font-size:17.7px;letter-spacing:-0.6px;text-indent:-0.6px">50</div><div class="t n" style="left:439px;width:91px;top:1037.27px;font-size:17.7px;letter-spacing:-0.6px;text-indent:-0.6px">551</div><div class="t n" style="left:531px;width:104px;top:1037.27px;font-size:17.7px;letter-spacing:-0.6px;text-indent:-0.6px">110832</div><div class="t c" style="left:1px;width:228px;top:1062.26px;font-size:17.3px;letter-spacing:0.43px;text-indent:0.43px">科学教育（师范）</div><div class="t n" style="left:230px;width:119px;top:1062.12px;font-size:17.7px;letter-spacing:-0.6px;text-indent:-0.6px">50</div><div class="t n" style="left:350px;width:88px;top:1062.12px;font-size:17.7px;letter-spacing:-0.6px;text-indent:-0.6px">50</div><div class="t n" style="left:439px;width:91px;top:1062.12px;font-size:17.7px;letter-spacing:-0.6px;text-indent:-0.6px">541</div><div class="t n" style="left:531px;width:104px;top:1062.12px;font-size:17.7px;letter-spacing:-0.6px;text-indent:-0.6px">122843</div>
</body></html>
